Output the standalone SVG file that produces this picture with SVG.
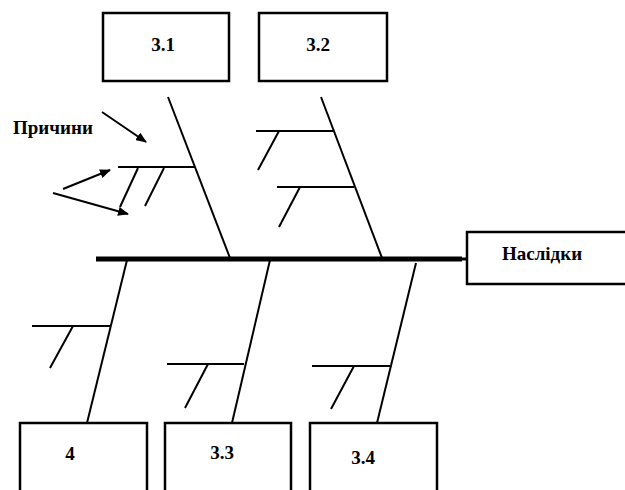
<svg xmlns="http://www.w3.org/2000/svg" width="625" height="490" viewBox="0 0 625 490">
<style>
.box{fill:#fff;stroke:#000;stroke-width:2.5}
.ln{stroke:#000;stroke-width:2;fill:none;stroke-linecap:butt}
.t{font-family:"Liberation Serif","Times New Roman",serif;font-weight:bold;font-size:19px;fill:#000}
.arr{stroke:#000;stroke-width:2;fill:none}
</style>
<defs>
<marker id="ah" markerWidth="11" markerHeight="9" refX="10" refY="4.5" orient="auto" markerUnits="userSpaceOnUse">
<path d="M0,0 L11,4.5 L0,9 Z" fill="#000"/>
</marker>
</defs>
<rect width="625" height="490" fill="#fff"/>
<g id="connectors">
<line x1="96" y1="259" x2="462" y2="259" stroke="#000" stroke-width="5"/>
<line x1="460" y1="259" x2="468" y2="259" stroke="#000" stroke-width="3"/>
<line class="ln" x1="168" y1="97" x2="230" y2="258"/>
<line class="ln" x1="118" y1="167" x2="195" y2="167"/>
<line class="ln" x1="138" y1="168" x2="120" y2="207"/>
<line class="ln" x1="164" y1="168" x2="145" y2="206"/>
<line class="ln" x1="321" y1="97" x2="382" y2="258"/>
<line class="ln" x1="256" y1="131" x2="333" y2="131"/>
<line class="ln" x1="279" y1="131" x2="258" y2="170"/>
<line class="ln" x1="277" y1="187" x2="354" y2="187"/>
<line class="ln" x1="300" y1="187" x2="279" y2="227"/>
<line class="ln" x1="127" y1="260" x2="87" y2="423"/>
<line class="ln" x1="32" y1="326" x2="110" y2="326"/>
<line class="ln" x1="73" y1="326" x2="50" y2="368"/>
<line class="ln" x1="270" y1="260" x2="232" y2="423"/>
<line class="ln" x1="167" y1="364" x2="244" y2="364"/>
<line class="ln" x1="208" y1="364" x2="185" y2="408"/>
<line class="ln" x1="416" y1="263" x2="377" y2="423"/>
<line class="ln" x1="312" y1="366" x2="390" y2="366"/>
<line class="ln" x1="354" y1="366" x2="331" y2="409"/>
<line class="arr" x1="102" y1="112" x2="146" y2="142" marker-end="url(#ah)"/>
<line class="arr" x1="63" y1="189" x2="110" y2="170" marker-end="url(#ah)"/>
<line class="arr" x1="53" y1="193" x2="128" y2="214" marker-end="url(#ah)"/>
</g>
<g id="n31"><rect class="box" x="103" y="13" width="126" height="68"/><text class="t" x="163" y="51" text-anchor="middle" font-size="22">3.1</text></g>
<g id="n32"><rect class="box" x="259" y="13" width="128" height="68"/><text class="t" x="318" y="51" text-anchor="middle" font-size="22">3.2</text></g>
<g id="causes"><text class="t" x="13" y="134">Причини</text></g>
<g id="effect"><rect class="box" x="467" y="232" width="170" height="52"/><text class="t" x="542" y="260" text-anchor="middle">Наслідки</text></g>
<g id="n4"><rect class="box" x="20" y="423" width="127" height="80"/><text class="t" x="70" y="460" text-anchor="middle">4</text></g>
<g id="n33"><rect class="box" x="165" y="423" width="126" height="80"/><text class="t" x="222" y="459" text-anchor="middle">3.3</text></g>
<g id="n34"><rect class="box" x="310" y="423" width="127" height="80"/><text class="t" x="363" y="464" text-anchor="middle">3.4</text></g>
</svg>
